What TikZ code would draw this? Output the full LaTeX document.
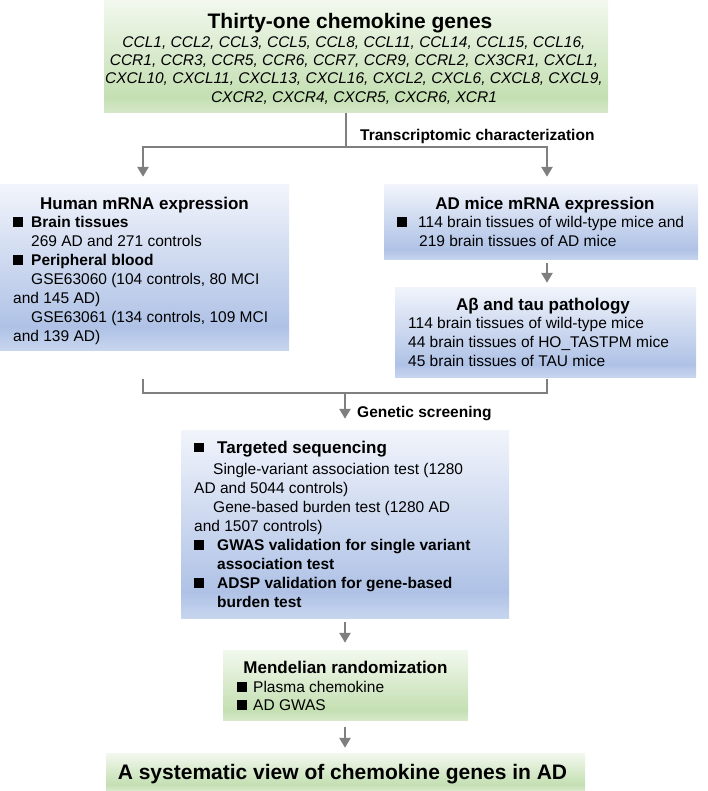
\documentclass[tikz,border=0pt]{standalone}
\usepackage{fontspec}
\setmainfont{Liberation Sans}
\usetikzlibrary{arrows.meta}

\definecolor{blueTop}{HTML}{F1F4FB}
\definecolor{blueMid}{HTML}{AFC2E6}
\definecolor{blueBot}{HTML}{C7D5EE}
\definecolor{greenTop}{HTML}{F2F8EE}
\definecolor{greenMid}{HTML}{C4DFB2}
\definecolor{greenBot}{HTML}{D6E9CB}
\definecolor{connGray}{HTML}{7F7F7F}

\pgfdeclareverticalshading{blueshade}{100bp}{color(0bp)=(blueBot); color(25bp)=(blueBot); color(32bp)=(blueMid); color(75bp)=(blueTop); color(100bp)=(blueTop)}
\pgfdeclareverticalshading{greenshade}{100bp}{color(0bp)=(greenBot); color(25bp)=(greenBot); color(32bp)=(greenMid); color(75bp)=(greenTop); color(100bp)=(greenTop)}

\newcommand{\sqb}{\rule[1pt]{9.5pt}{9.5pt}}

\tikzset{
  bluebox/.style={rectangle, shade, shading=blueshade, draw=none, inner sep=0pt},
  greenbox/.style={rectangle, shade, shading=greenshade, draw=none, inner sep=0pt},
  headtxt/.style={font=\fontsize{17}{20}\selectfont\bfseries, inner sep=0pt, anchor=base},
  bodytxt/.style={font=\fontsize{15.5}{19}\selectfont, align=left, inner sep=0pt, anchor=north west},
  steplabel/.style={font=\fontsize{15.5}{19}\selectfont\bfseries, inner sep=0pt, anchor=base west},
  line/.style={draw=connGray, line width=2.8pt},
  arrow/.style={line, -{Triangle[length=10pt,width=11pt]}}
}

\begin{document}
\begin{tikzpicture}[x=1pt,y=-1pt]
  \useasboundingbox (0,0) rectangle (708,791);

  % gene list
  \node[greenbox, minimum width=504, minimum height=113] (genes) at (356,56.5) {};
  \node[headtxt, font=\fontsize{21}{24}\selectfont\bfseries] (genestitle) at (350,28.6) {Thirty-one chemokine genes};
  \node[bodytxt, anchor=north, align=center, font=\fontsize{15.5}{18.3}\selectfont\itshape] (geneslist) at (354,36.3)
    {CCL1, CCL2, CCL3, CCL5, CCL8, CCL11, CCL14, CCL15, CCL16,\\
     CCR1, CCR3, CCR5, CCR6, CCR7, CCR9, CCRL2, CX3CR1, CXCL1,\\
     CXCL10, CXCL11, CXCL13, CXCL16, CXCL2, CXCL6, CXCL8, CXCL9,\\
     CXCR2, CXCR4, CXCR5, CXCR6, XCR1};

  % transcriptomic characterization
  \node[bluebox, minimum width=289, minimum height=165] (human) at (144.5,267.5) {};
  \node[headtxt] (humanhead) at (144.5,209.1) {Human mRNA expression};
  \node[bodytxt] (humanbody) at (13,216.3)
    {\sqb\hspace{8.5pt}\textbf{Brain tissues}\\
     \hspace*{18pt}269 AD and 271 controls\\
     \sqb\hspace{8.5pt}\textbf{Peripheral blood}\\
     \hspace*{18pt}GSE63060 (104 controls, 80 MCI\\
     and 145 AD)\\
     \hspace*{18pt}GSE63061 (134 controls, 109 MCI\\
     and 139 AD)};

  \node[bluebox, minimum width=314, minimum height=75] (admice) at (541,222.5) {};
  \node[headtxt] (admicehead) at (545,209.1) {AD mice mRNA expression};
  \node[bodytxt] (admicebody) at (397,216.3)
    {\sqb\hspace{11.5pt}114 brain tissues of wild-type mice and\\
     \hspace*{22pt}219 brain tissues of AD mice};

  \node[bluebox, minimum width=301, minimum height=90] (abeta) at (545.5,332) {};
  \node[headtxt] (abetahead) at (543,310.1) {Aβ and tau pathology};
  \node[bodytxt] (abetabody) at (408,317.3)
    {114 brain tissues of wild-type mice\\
     44 brain tissues of HO\_TASTPM mice\\
     45 brain tissues of TAU mice};

  % genetic screening
  \node[bluebox, minimum width=328, minimum height=188] (target) at (345,524) {};
  \node[bodytxt] (targetbody) at (194,440.7)
    {\sqb\hspace{13.5pt}{\fontsize{17}{19}\selectfont\bfseries Targeted sequencing}\\[2.4pt]
     \hspace*{19pt}Single-variant association test (1280\\
     AD and 5044 controls)\\
     \hspace*{19pt}Gene-based burden test (1280 AD\\
     and 1507 controls)\\
     \sqb\hspace{13.5pt}\textbf{GWAS validation for single variant}\\
     \hspace*{23pt}\textbf{association test}\\
     \sqb\hspace{13.5pt}\textbf{ADSP validation for gene-based}\\
     \hspace*{23pt}\textbf{burden test}};

  \node[greenbox, minimum width=245, minimum height=70] (mendel) at (345.5,685) {};
  \node[headtxt] (mendelhead) at (345.5,673.1) {Mendelian randomization};
  \node[bodytxt, font=\fontsize{15.5}{18}\selectfont] (mendelbody) at (237,681.3)
    {\sqb\hspace{6.5pt}Plasma chemokine\\
     \sqb\hspace{6.5pt}AD GWAS};

  \node[greenbox, minimum width=479, minimum height=37] (final) at (345.5,771.5) {};
  \node[headtxt, font=\fontsize{21}{24}\selectfont\bfseries] (finaltxt) at (342.5,779.5) {A systematic view of chemokine genes in AD};

  % step labels
  \node[steplabel] (transcr) at (360,140.5) {Transcriptomic characterization};
  \node[steplabel] (genetic) at (357,417.5) {Genetic screening};

  % connectors
  \coordinate (split) at (346,147);
  \coordinate (merge) at (345,393);
  \draw[line] (genes.south -| split) -- (split);
  \draw[arrow, shorten >=8pt] (split) -| ([xshift=-1.5pt]human.north);
  \draw[arrow, shorten >=8pt] (split) -| ([xshift=6pt]admice.north);
  \draw[arrow, shorten <=3pt, shorten >=4pt] ([xshift=6pt]admice.south) -- ([xshift=6pt]admice.south |- abeta.north);
  \draw[line, shorten <=29pt] ([xshift=-1.5pt]human.south) |- (merge);
  \draw[line, shorten <=2pt] ([xshift=1.5pt]abeta.south) |- (merge);
  \draw[arrow, shorten >=11pt] (merge) -- (merge |- target.north);
  \draw[arrow, shorten <=4pt, shorten >=7pt] (target.south) -- (mendel.north -| target.south);
  \draw[arrow, shorten <=7pt, shorten >=5pt] (mendel.south -| target.south) -- (final.north -| target.south);
\end{tikzpicture}
\end{document}
